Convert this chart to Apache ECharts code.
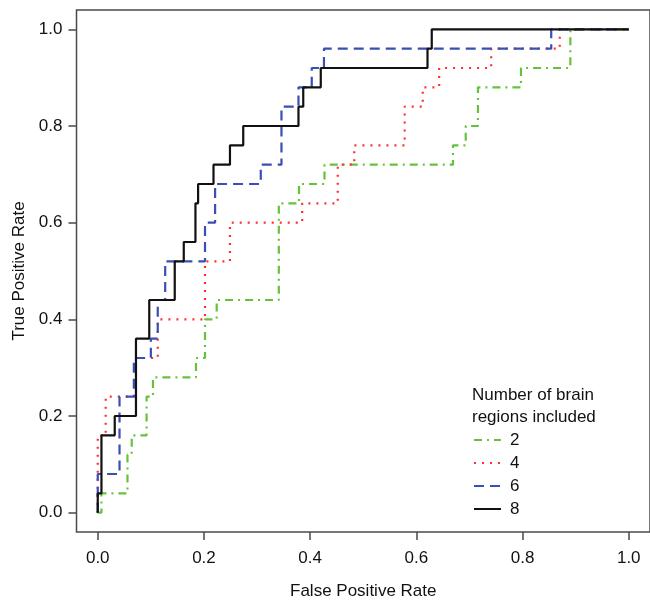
<!DOCTYPE html>
<html>
<head>
<meta charset="utf-8">
<script src="https://cdn.jsdelivr.net/npm/echarts@6/dist/echarts.min.js"></script>
<style>
  html, body { margin: 0; padding: 0; background: #fff; }
  #chart { width: 650px; height: 605px; }
</style>
</head>
<body>
<div id="chart"></div>
<script>
// ROC curves, one per number of brain regions (step corners: fpr, tpr)
const seriesNames = ['2', '4', '6', '8']

const fpr2 = [0, 0.007, 0.056, 0.064, 0.092, 0.104, 0.185, 0.202, 0.224, 0.341, 0.379, 0.427, 0.669, 0.693, 0.716, 0.797, 0.890, 1]
const tpr2 = [0, 0.04, 0.12, 0.16, 0.24, 0.28, 0.32, 0.40, 0.44, 0.64, 0.68, 0.72, 0.76, 0.80, 0.88, 0.92, 1, 1]

const fpr4 = [0, 0, 0.015, 0.072, 0.113, 0.202, 0.249, 0.385, 0.452, 0.483, 0.578, 0.612, 0.643, 0.741, 0.870, 1]
const tpr4 = [0, 0.16, 0.24, 0.32, 0.40, 0.52, 0.60, 0.64, 0.72, 0.76, 0.84, 0.88, 0.92, 0.96, 1, 1]

const fpr6 = [0, 0, 0.041, 0.068, 0.100, 0.113, 0.127, 0.202, 0.221, 0.307, 0.346, 0.378, 0.403, 0.426, 0.854, 1]
const tpr6 = [0, 0.08, 0.24, 0.32, 0.36, 0.44, 0.52, 0.60, 0.68, 0.72, 0.84, 0.88, 0.92, 0.96, 1, 1]

const fpr8 = [0, 0, 0.007, 0.032, 0.072, 0.097, 0.145, 0.162, 0.184, 0.189, 0.218, 0.249, 0.274, 0.378, 0.387, 0.420, 0.621, 0.629, 1]
const tpr8 = [0, 0.04, 0.16, 0.20, 0.36, 0.44, 0.52, 0.56, 0.64, 0.68, 0.72, 0.76, 0.80, 0.84, 0.88, 0.92, 0.96, 1, 1]

const tickValues = [0, 0.2, 0.4, 0.6, 0.8, 1.0]

function zip(xs, ys) {
  return xs.map((x, i) => [x, ys[i]])
}

const font = "'Liberation Sans', Arial, Helvetica, sans-serif"
const axisColor = '#4a4a4a'

function rocLine(name, xs, ys, color, dash) {
  return {
    name,
    type: 'line',
    step: 'end',
    data: zip(xs, ys),
    symbol: 'none',
    silent: true,
    lineStyle: { color, width: 2.2, type: dash, cap: 'butt' },
    itemStyle: { color }
  }
}

const chart = echarts.init(document.getElementById('chart'), null, { renderer: 'canvas' })

const axisCommon = {
  type: 'value',
  min: -0.04,
  max: 1.04,
  splitLine: { show: false },
  axisLine: { show: false, onZero: false },
  axisTick: { show: true, length: 8, customValues: tickValues, lineStyle: { color: axisColor, width: 1.5 } },
  axisLabel: {
    customValues: tickValues,
    formatter: v => v.toFixed(1),
    color: '#111',
    fontSize: 17,
    fontFamily: font
  },
  nameLocation: 'middle',
  nameTextStyle: { color: '#111', fontSize: 17, fontFamily: font }
}

chart.setOption({
  animation: false,
  title: {
    text: 'Number of brain\nregions included',
    left: 472,
    top: 384,
    padding: 0,
    textStyle: { fontSize: 17, fontWeight: 'normal', lineHeight: 22, color: '#111', fontFamily: font }
  },
  legend: {
    data: seriesNames,
    orient: 'vertical',
    left: 473,
    top: 430,
    padding: 0,
    itemWidth: 27,
    itemHeight: 14,
    itemGap: 3,
    itemStyle: { opacity: 0 },
    textStyle: { fontSize: 17, color: '#111', fontFamily: font, lineHeight: 20, padding: [0, 0, 0, 4] }
  },
  grid: {
    left: 76.5,
    right: -6.5,
    top: 10,
    bottom: 65,
    show: true,
    borderColor: axisColor,
    borderWidth: 1.5,
    containLabel: false
  },
  xAxis: Object.assign({}, axisCommon, {
    name: 'False Positive Rate',
    nameGap: 51,
    axisLabel: Object.assign({}, axisCommon.axisLabel, { margin: 18 })
  }),
  yAxis: Object.assign({}, axisCommon, {
    name: 'True Positive Rate',
    nameGap: 45,
    axisLabel: Object.assign({}, axisCommon.axisLabel, { margin: 14 })
  }),
  series: [
    rocLine('2', fpr2, tpr2, '#66c23c', [8, 5, 2, 5]),
    rocLine('4', fpr4, tpr4, '#ff3030', [2, 6]),
    rocLine('6', fpr6, tpr6, '#3a4fb4', [10, 6]),
    rocLine('8', fpr8, tpr8, '#111111', 'solid')
  ]
})
</script>
</body>
</html>
